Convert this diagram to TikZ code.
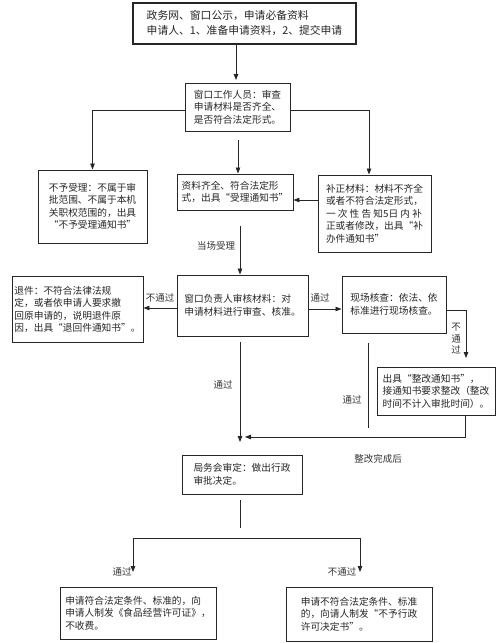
\documentclass[tikz,border=0pt]{standalone}
\usepackage{fontspec}
\setmainfont{Noto Sans CJK SC}
\usetikzlibrary{arrows.meta,calc}
\begin{document}
\begin{tikzpicture}[x=1pt,y=-1pt,
 box/.style={draw=black!85, line width=0.9pt, align=left, font=\fontsize{9.7}{12.5}\selectfont, text=black!85, inner sep=0pt},
 arr/.style={-{Triangle[length=6pt,width=4.5pt]}, line width=0.8pt, draw=black!85},
 ln/.style={line width=0.8pt, draw=black!85},
 lbl/.style={font=\fontsize{9.5}{11}\selectfont, text=black!80, inner sep=1pt}]
\useasboundingbox (0,0) rectangle (499,643);

% boxes
\node[box, line width=1.3pt, minimum width=223pt, minimum height=41pt, font=\fontsize{10.8}{15}\selectfont] (b1) at (244.5,23.5)
 {政务网、窗口公示，申请必备资料\\申请人、1、准备申请资料，2、提交申请};
\node[box, minimum width=105pt, minimum height=48pt] (b2) at (237.5,107)
 {窗口工作人员：审查\\申请材料是否齐全、\\是否符合法定形式。};
\node[box, align=center, minimum width=109pt, minimum height=73pt] (b3) at (92.5,206.5)
 {不予受理：不属于审\\批范围、不属于本机\\关职权范围的，出具\\“不予受理通知书”};
\node[box, minimum width=116pt, minimum height=36pt] (b4) at (235,192)
 {资料齐全、符合法定形\\式，出具“受理通知书”};
\node[box, minimum width=113pt, minimum height=77pt] (b5) at (374.5,213.5)
 {补正材料：材料不齐全\\或者不符合法定形式，\\一 次 性 告 知5日 内 补\\正或者修改，出具“补\\办件通知书”};
\node[box, minimum width=131pt, minimum height=61pt] (b6) at (242.5,305.5)
 {窗口负责人审核材料：对\\申请材料进行审查、核准。};
\node[box, minimum width=131pt, minimum height=66pt] (b7) at (77.5,309.5)
 {退件：不符合法律法规\\定，或者依申请人要求撤\\回原申请的，说明退件原\\因，出具“退回件通知书”。};
\node[box, minimum width=104pt, minimum height=57pt] (b8) at (394,304.5)
 {现场核查：依法、依\\标准进行现场核查。};
\node[box, minimum width=118pt, minimum height=48pt] (b9) at (436,391)
 {出具“整改通知书”，\\接通知书要求整改（整改\\时间不计入审批时间）。};
\node[box, minimum width=120pt, minimum height=39pt] (b10) at (242,474.5)
 {局务会审定：做出行政\\审批决定。\phantom{做出行政}};
\node[box, minimum width=156pt, minimum height=52pt] (b11) at (138,613)
 {申请符合法定条件、标准的，向\\申请人制发《食品经营许可证》，\\不收费。};
\node[box, minimum width=146pt, minimum height=54pt] (b12) at (359,614)
 {申请不符合法定条件、标准\\的，向请人制发“不予行政\\许可决定书”。};

% helper coordinates
\coordinate (t1) at (236,80);
\coordinate (m2) at (238,140);
\coordinate (r2) at (369,110);
\coordinate (y45) at (300,200);
\coordinate (s4) at (240,226);
\coordinate (y67) at (300,308);
\coordinate (y68) at (300,309);
\coordinate (c8r) at (466,310);
\coordinate (c9a) at (466,358);
\coordinate (c9b) at (465,437);
\coordinate (c9e) at (245,437);
\coordinate (c8a) at (368,343);
\coordinate (c8b) at (368,428);
\coordinate (c6a) at (240,342);
\coordinate (c6b) at (240,442);
\coordinate (c10a) at (240,500);
\coordinate (c10b) at (240,528);
\coordinate (barL) at (133,538);
\coordinate (barR) at (360,538);
\coordinate (aL) at (133,572);
\coordinate (aR) at (360,572);

% connectors
\draw[arr] (b1.south -| t1) -- (t1);
\draw[arr] (b2.west |- r2) -| (b3.north);
\draw[arr] (b2.east |- r2) -| (b5.north -| r2);
\draw[arr] (m2) -- (b4.north -| m2);
\draw[arr] (b5.west |- y45) -- (b4.east |- y45);
\draw[arr] (s4) -- (b6.north -| s4);
\draw[arr] (b6.west |- y67) -- (b7.east |- y67);
\draw[arr] (b6.east |- y68) -- (b8.west |- y68);
\draw[arr] (b8.east |- c8r) -- (c8r) -- (c9a);
\draw[arr] (b9.south -| c9b) -- (c9b) -- (c9e);
\draw[ln] (c8a) -- (c8b);
\draw[arr] (c6a) -- (c6b);
\draw[ln] (c10a) -- (c10b);
\draw[ln] (barL) -- (barR);
\draw[arr] (barL) -- (aL);
\draw[arr] (barR) -- (aR);

% labels
\node[lbl] at (216,246) {当场受理};
\node[lbl] at (160,298) {不通过};
\node[lbl] at (320,298) {通过};
\node[lbl, align=center, font=\fontsize{9.5}{11.5}\selectfont] at (456,339) {不\\通\\过};
\node[lbl] at (223,385) {通过};
\node[lbl] at (352,400) {通过};
\node[lbl] at (378,459) {整改完成后};
\node[lbl] at (122,572) {通过};
\node[lbl] at (342,572) {不通过};
\end{tikzpicture}
\end{document}
